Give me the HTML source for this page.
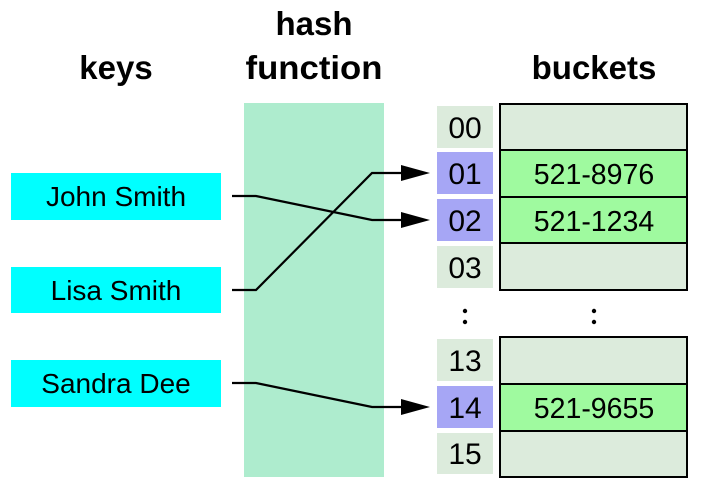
<!DOCTYPE html>
<html><head><meta charset="utf-8"><style>
html,body{margin:0;padding:0;background:#fff;}
svg{display:block;}
text{font-family:"Liberation Sans","DejaVu Sans",sans-serif;}
</style></head><body>
<svg width="704" height="499" viewBox="0 0 704 499" xmlns="http://www.w3.org/2000/svg">
<rect x="244" y="103" width="140" height="374" fill="#aeecce"/>
<g font-weight="bold" font-size="33" text-anchor="middle" fill="#000">
<text x="116" y="79">keys</text>
<text x="314" y="35">hash</text>
<text x="314" y="79" textLength="137" lengthAdjust="spacingAndGlyphs">function</text>
<text x="594" y="79">buckets</text>
</g>
<g fill="#00ffff">
<rect x="11" y="173" width="210" height="47"/>
<rect x="11" y="267" width="210" height="46"/>
<rect x="11" y="360" width="210" height="47"/>
</g>
<g font-size="28" text-anchor="middle" fill="#000">
<text x="116" y="206">John Smith</text>
<text x="116" y="300">Lisa Smith</text>
<text x="116" y="393">Sandra Dee</text>
</g>
<g>
<rect x="437" y="106" width="56" height="42" fill="#dcebdc"/>
<rect x="437" y="152" width="56" height="42" fill="#a6a6f5"/>
<rect x="437" y="199" width="56" height="42" fill="#a6a6f5"/>
<rect x="437" y="246" width="56" height="42" fill="#dcebdc"/>
<rect x="437" y="339" width="56" height="42" fill="#dcebdc"/>
<rect x="437" y="386" width="56" height="42" fill="#a6a6f5"/>
<rect x="437" y="433" width="56" height="41" fill="#dcebdc"/>
</g>
<g font-size="30" text-anchor="middle" fill="#000">
<text x="465" y="138">00</text>
<text x="465" y="184">01</text>
<text x="465" y="231">02</text>
<text x="465" y="278">03</text>
<text x="465" y="371">13</text>
<text x="465" y="418">14</text>
<text x="465" y="464">15</text>
</g>
<g stroke="#000" stroke-width="2">
<rect x="500" y="104" width="187" height="46" fill="#dcebdc"/>
<rect x="500" y="150" width="187" height="47" fill="#9ffa9f"/>
<rect x="500" y="197" width="187" height="46" fill="#9ffa9f"/>
<rect x="500" y="243" width="187" height="47" fill="#dcebdc"/>
<rect x="500" y="337" width="187" height="47" fill="#dcebdc"/>
<rect x="500" y="384" width="187" height="47" fill="#9ffa9f"/>
<rect x="500" y="431" width="187" height="46" fill="#dcebdc"/>
</g>
<g font-size="28.5" text-anchor="middle" fill="#000">
<text x="594" y="184">521-8976</text>
<text x="594" y="231">521-1234</text>
<text x="594" y="418">521-9655</text>
</g>
<g fill="#000">
<circle cx="465" cy="311" r="2.2"/><circle cx="465" cy="322" r="2.2"/>
<circle cx="594" cy="311" r="2.2"/><circle cx="594" cy="322" r="2.2"/>
</g>
<g stroke="#000" stroke-width="2.2" fill="none">
<polyline points="232,196 256,196 372,220 405,220"/>
<polyline points="232,290 256,290 372,173 405,173"/>
<polyline points="232,383 256,383 372,407 405,407"/>
</g>
<g fill="#000">
<polygon points="401,165 430,173 401,181"/>
<polygon points="401,212 430,220 401,228"/>
<polygon points="401,399 430,407 401,415"/>
</g>
</svg>
</body></html>
